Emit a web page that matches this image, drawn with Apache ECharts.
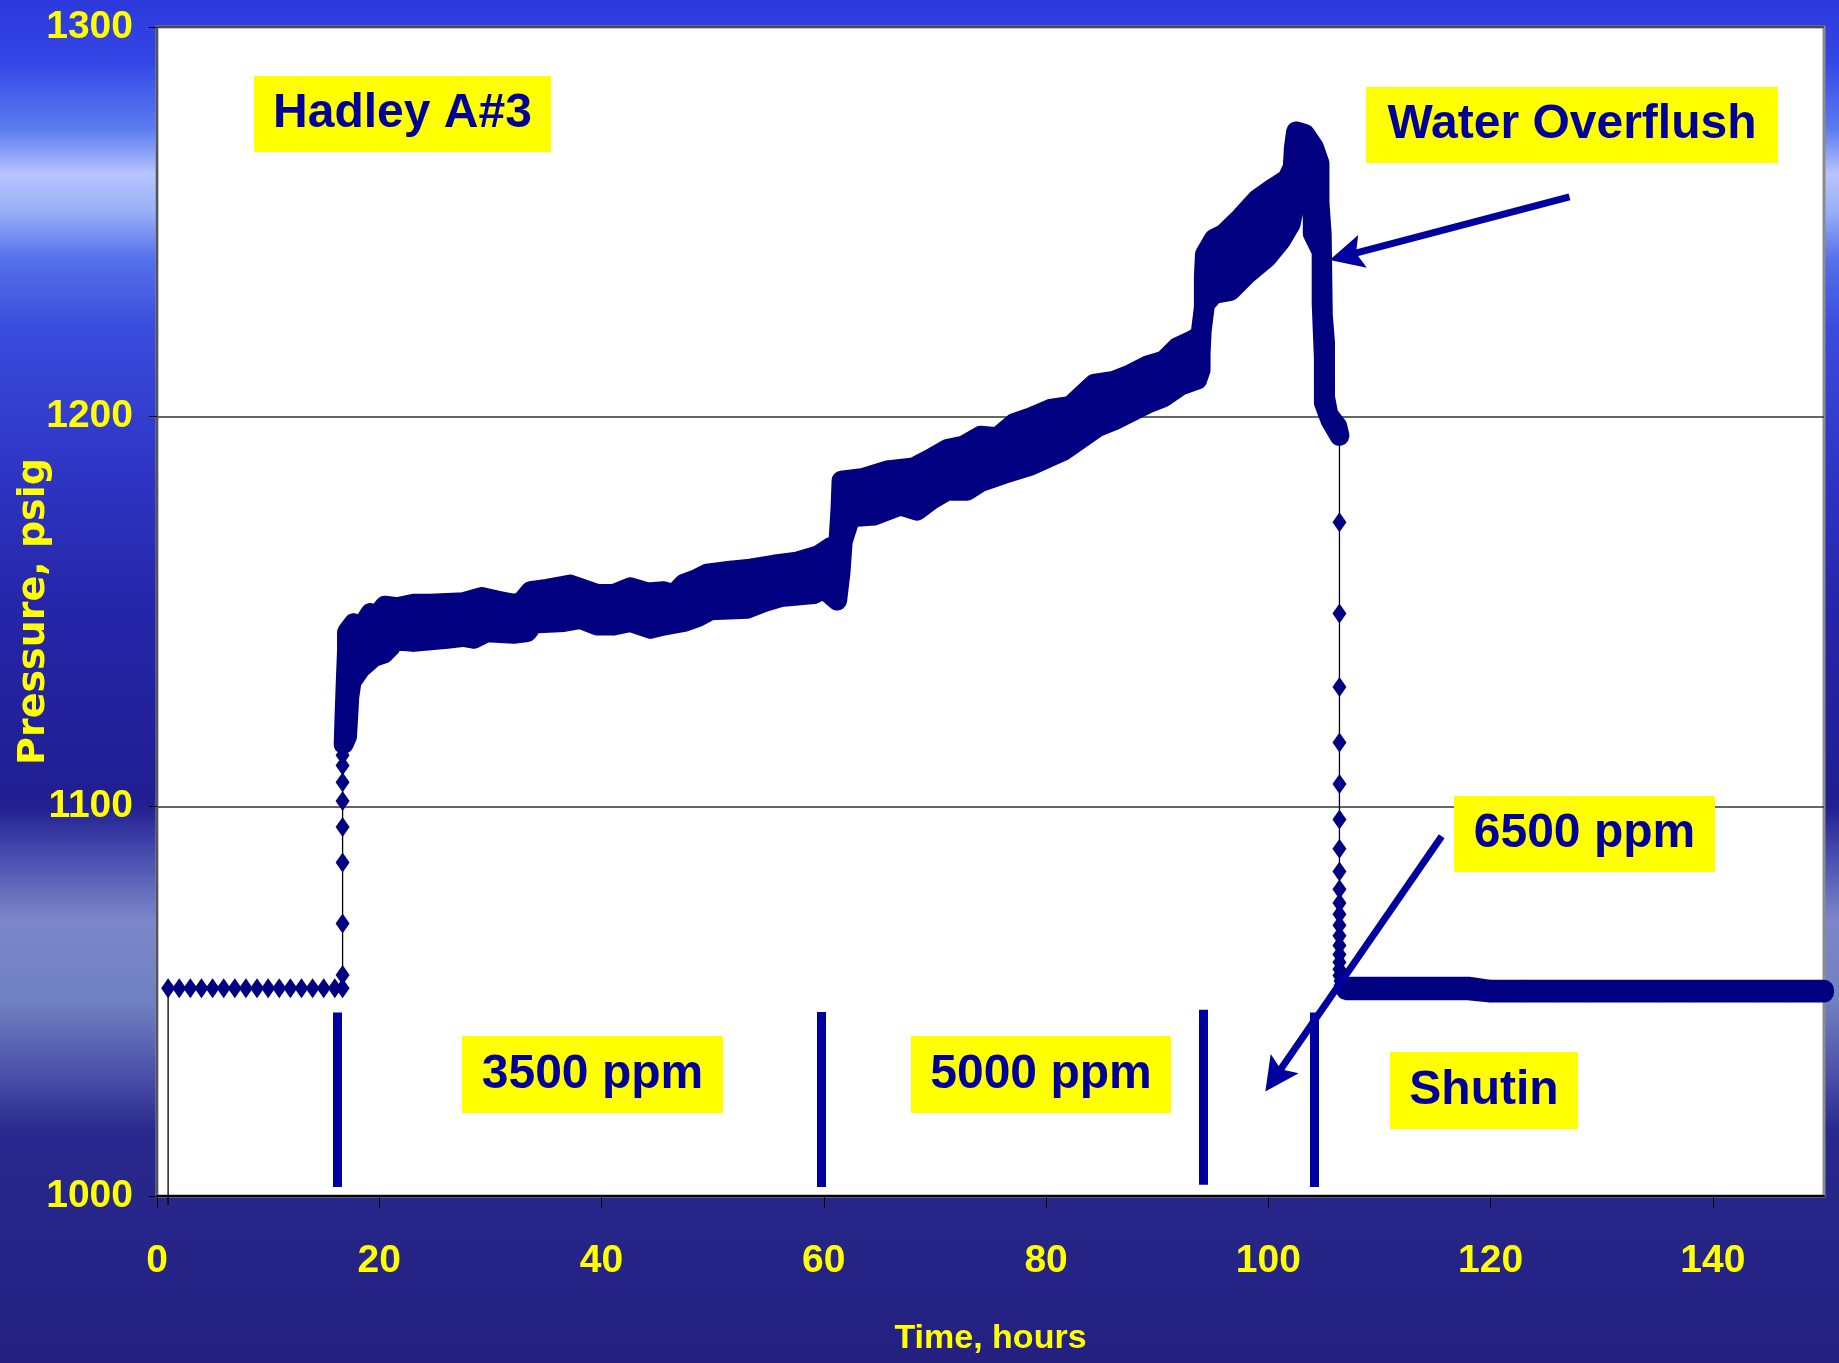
<!DOCTYPE html>
<html>
<head>
<meta charset="utf-8">
<title>Hadley A#3 pressure</title>
<script src="https://cdn.jsdelivr.net/npm/echarts@6.0.0/dist/echarts.min.js"></script>
<style>
  html, body { margin: 0; padding: 0; background: #232080; }
  #chart { width: 1839px; height: 1363px; }
</style>
</head>
<body>
<div id="chart"></div>
<script>
// ---- data (hours, psig) ----

// before injection and up the first rise
const preHours = [1, 1, 2, 3, 4, 5, 6, 7, 8, 9, 10, 11, 12, 13, 14, 15, 16,
  16.7, 16.7, 16.7, 16.7, 16.7, 16.7, 16.7, 16.7, 16.7, 16.7];
const prePsig = [997.7, 1053.3, 1053.3, 1053.3, 1053.3, 1053.3, 1053.3, 1053.3, 1053.3,
  1053.3, 1053.3, 1053.3, 1053.3, 1053.3, 1053.3, 1053.3, 1053.3,
  1053.3, 1056.7, 1069.9, 1085.6, 1094.7, 1101.4, 1106.2, 1110.5, 1113.1, 1115.6];

// injection period: the readings swing, so keep the top and bottom of the cloud
const injUpHours = [16.8, 16.9, 17.0, 17.1, 17.1, 17.7, 18.3, 19.2, 19.6, 20.5,
  21.6, 23.1, 24.6, 26.1, 27.6, 29.2, 30.6, 32.1, 32.8, 33.6,
  35.1, 37.2, 39.6, 41.1, 42.6, 44.1, 45.6, 46.5, 47.4, 48.6,
  49.5, 51.6, 53.4, 55.5, 57.6, 59.5, 60.6, 61.3, 61.5, 61.6,
  63.6, 65.7, 68.1, 69.6, 71.1, 72.6, 74.1, 75.6, 77.1, 78.6,
  80.4, 82.2, 84.3, 86.1, 87.6, 89.1, 90.6, 91.8, 93.3, 93.9,
  94.2, 94.2, 94.3, 95.1, 96.0, 97.5, 99.0, 100.5, 101.7, 102.2,
  102.3, 102.5, 103.3, 104.1, 104.6, 104.6, 104.8, 104.9, 105.1, 105.1,
  105.4, 106.2, 106.4];
const injUpPsig = [1116, 1125, 1133, 1140, 1144.7, 1147.0, 1145.6, 1149.6, 1148.2, 1151.5,
  1151.1, 1152.0, 1152.0, 1152.2, 1152.4, 1153.7, 1152.8, 1152.0, 1152.4, 1155.2,
  1155.8, 1156.9, 1154.5, 1154.5, 1156.2, 1154.9, 1155.2, 1154.4, 1157.1, 1158.4,
  1159.7, 1160.5, 1161.0, 1162.0, 1162.8, 1164.4, 1166.5, 1167.0, 1176.0, 1183.6,
  1184.3, 1186.2, 1187.0, 1189.2, 1191.7, 1192.6, 1195.1, 1194.7, 1198.3, 1199.8,
  1202.0, 1202.8, 1208.4, 1209.2, 1210.9, 1213.1, 1214.4, 1217.8, 1219.8, 1221.0,
  1228.0, 1236.0, 1241.7, 1245.6, 1246.9, 1251.1, 1255.8, 1258.8, 1261.0, 1264.0,
  1269.0, 1273.2, 1272.5, 1269.1, 1265.0, 1255.0, 1246.9, 1226.0, 1219.0, 1205.0,
  1200.5, 1197.5, 1195.1];
const injLoHours = [16.8, 17.1, 17.2, 17.3, 17.5, 18.3, 19.5, 20.4, 21.0, 21.3,
  23.1, 24.6, 26.1, 27.6, 28.5, 29.7, 32.1, 33.3, 33.9, 36.6,
  38.1, 39.6, 41.1, 42.6, 44.4, 45.6, 47.4, 48.6, 49.8, 53.1,
  54.6, 56.1, 57.6, 59.1, 60.0, 61.2, 61.5, 61.7, 62.4, 64.5,
  66.9, 68.4, 69.6, 71.1, 72.9, 74.1, 76.2, 78.6, 81.6, 84.6,
  86.1, 89.1, 90.6, 92.1, 93.6, 93.9, 93.9, 94.0, 94.3, 95.1,
  96.6, 98.1, 99.9, 101.1, 102.0, 102.5, 103.3, 104.0, 104.0, 104.8,
  104.8, 105.0, 105.0, 105.6, 106.4];
const injLoPsig = [1116, 1118, 1123, 1128, 1132, 1135.3, 1138.3, 1139.2, 1140.9, 1142.6,
  1142.2, 1142.6, 1143.0, 1143.5, 1143.0, 1144.7, 1144.3, 1144.7, 1146.9, 1147.3,
  1148.1, 1146.4, 1146.4, 1147.3, 1145.6, 1146.4, 1147.3, 1148.5, 1150.3, 1150.7,
  1152.4, 1153.7, 1154.1, 1154.5, 1155.8, 1152.8, 1160.0, 1168.0, 1174.2, 1174.6,
  1177.2, 1175.9, 1178.5, 1181.0, 1181.0, 1183.2, 1185.3, 1187.4, 1191.3, 1197.3,
  1199.0, 1203.3, 1205.0, 1208.0, 1209.5, 1212.0, 1216.0, 1222.0, 1228.9, 1231.5,
  1232.3, 1236.6, 1240.9, 1245.1, 1249.4, 1256.2, 1257.0, 1256.0, 1247.0, 1242.4,
  1229.0, 1215.0, 1203.6, 1199.0, 1195.1];

// fall-off after the water overflush
const dropHours = [106.4, 106.4, 106.4, 106.4, 106.4, 106.4, 106.4, 106.4, 106.4, 106.4,
  106.4, 106.4, 106.4, 106.4, 106.4, 106.4, 106.4, 106.4, 106.4, 106.5, 106.5, 107.0];
const dropPsig = [1195.1, 1172.9, 1149.5, 1130.6, 1116.4, 1105.7, 1096.6, 1089.1, 1083.3, 1078.7,
  1075.2, 1072.3, 1069.5, 1066.8, 1064.3, 1062.0, 1060.0, 1058.2, 1056.6, 1055.2, 1054.0, 1053.3];

// shut-in
const tailHours = [107, 110, 113, 116, 118, 120, 123, 126, 129, 132, 135, 138, 141, 144, 147, 150];
const tailUpPsig = [1053.7, 1053.7, 1053.7, 1053.7, 1053.7, 1052.9, 1052.9, 1052.9,
  1052.9, 1052.9, 1052.9, 1052.9, 1052.9, 1052.9, 1052.9, 1052.9];
const tailLoPsig = [1052.8, 1052.8, 1052.8, 1052.8, 1052.8, 1052.2, 1052.2, 1052.2,
  1052.2, 1052.2, 1052.2, 1052.2, 1052.2, 1052.2, 1052.2, 1052.2];

// stage separators (hours) and their ends (psig)
const stageHours = [16.2, 59.8, 94.1, 104.15];
const stageLow = [1002.3, 1002.3, 1002.9, 1002.3];
const stageHigh = [1047.1, 1047.2, 1047.8, 1047.1];

const hourTicks = [0, 20, 40, 60, 80, 100, 120, 140];

// ---- chart ----
const NAVY = '#000080';
const MARK = '#0000a0';
const YELLOW = '#ffff00';
const TICKFONT = "'Liberation Sans', Arial, sans-serif";
const ARROW = 'path://M10,0 L20,20 L10,16 L0,20 Z';

function zip(a, b) { return a.map((x, i) => [x, b[i]]); }

const bands = [
  { upper: zip(injUpHours, injUpPsig), lower: zip(injLoHours, injLoPsig) },
  { upper: zip(tailHours, tailUpPsig), lower: zip(tailHours, tailLoPsig) }
];
const edgePoints = bands.reduce((acc, b) => acc.concat(b.upper, b.lower), []);

const stageLines = stageHours.map((h, i) => [
  { coord: [h, stageLow[i]], symbol: 'none', lineStyle: { color: MARK, width: 9, type: 'solid' } },
  { coord: [h, stageHigh[i]], symbol: 'none' }
]);
const arrows = [
  [{ coord: [127.1, 1256.4], symbol: 'none', lineStyle: { color: MARK, width: 7, type: 'solid' } },
   { coord: [107.0, 1241.3], symbol: ARROW }],
  [{ coord: [115.6, 1092.3], symbol: 'none', lineStyle: { color: MARK, width: 7, type: 'solid' } },
   { coord: [100.6, 1030.4], symbol: ARROW }]
];

function box(x, y, w, h, text) {
  return {
    type: 'group', z: 50,
    children: [
      { type: 'rect', z: 50, shape: { x: x, y: y, width: w, height: h }, style: { fill: YELLOW } },
      { type: 'text', z: 51, x: x + w / 2, y: y + h / 2,
        style: { text: text, fill: '#000099', font: "bold 48px 'Liberation Sans', Arial, sans-serif",
                 textAlign: 'center', textVerticalAlign: 'middle' } }
    ]
  };
}

const bg = {
  type: 'linear', x: 0, y: 0, x2: 0, y2: 1,
  colorStops: [
    { offset: 0, color: '#2c38da' },
    { offset: 0.045, color: '#3446e6' },
    { offset: 0.095, color: '#5c7cf0' },
    { offset: 0.128, color: '#b8c4fc' },
    { offset: 0.155, color: '#98b0f8' },
    { offset: 0.19, color: '#5670ea' },
    { offset: 0.24, color: '#3a4cdc' },
    { offset: 0.33, color: '#3038c8' },
    { offset: 0.44, color: '#2626aa' },
    { offset: 0.59, color: '#201e90' },
    { offset: 0.63, color: '#4a50b0' },
    { offset: 0.675, color: '#7c86c8' },
    { offset: 0.735, color: '#7080c0' },
    { offset: 0.79, color: '#4a4fa8' },
    { offset: 0.83, color: '#28288e' },
    { offset: 1, color: '#232080' }
  ]
};

const chart = echarts.init(document.getElementById('chart'));
chart.setOption({
  animation: false,
  backgroundColor: bg,
  grid: {
    left: 157, right: 15, top: 27, bottom: 167,
    outerBoundsMode: 'none', containLabel: false,
    show: true, backgroundColor: '#ffffff', borderColor: '#8c8c8c', borderWidth: 3
  },
  xAxis: {
    type: 'value', min: 0, max: 150,
    name: 'Time, hours', nameLocation: 'middle', nameGap: 126, nameMoveOverlap: false,
    nameTextStyle: { color: YELLOW, fontFamily: TICKFONT, fontWeight: 'bold', fontSize: 34 },
    axisLine: { show: true, lineStyle: { color: '#000', width: 2 } },
    axisTick: { show: true, length: 12, lineStyle: { color: '#000' }, customValues: hourTicks },
    axisLabel: { color: YELLOW, fontFamily: TICKFONT, fontWeight: 'bold', fontSize: 39, margin: 46,
                 customValues: hourTicks },
    splitLine: { show: false }
  },
  yAxis: {
    type: 'value', min: 1000, max: 1300, interval: 100,
    name: 'Pressure, psig', nameLocation: 'middle', nameRotate: 90, nameGap: 104, nameMoveOverlap: false,
    nameTextStyle: { color: YELLOW, fontFamily: "'DejaVu Sans', sans-serif", fontWeight: 'bold', fontSize: 38 },
    axisLine: { show: true, lineStyle: { color: '#555', width: 2 } },
    axisTick: { show: true, length: 8, lineStyle: { color: '#000' } },
    axisLabel: { color: YELLOW, fontFamily: TICKFONT, fontWeight: 'bold', fontSize: 39, margin: 24,
                 formatter: function (v) { return String(v); } },
    splitLine: { show: true, lineStyle: { color: '#333', width: 1.5 } }
  },
  series: [
    {
      name: 'band', type: 'custom', z: 2, silent: true,
      data: bands.map((b, i) => [i]),
      renderItem: function (params, api) {
        const b = bands[params.dataIndex];
        const pts = b.upper.map(p => api.coord(p))
          .concat(b.lower.slice().reverse().map(p => api.coord(p)));
        return {
          type: 'polygon', shape: { points: pts },
          style: { fill: NAVY, stroke: NAVY, lineWidth: 20, lineJoin: 'round' }
        };
      }
    },
    {
      name: 'readings', type: 'scatter', z: 3, silent: true,
      symbol: 'diamond', symbolSize: [14, 20],
      itemStyle: { color: NAVY },
      data: edgePoints
    },
    {
      name: 'pre', type: 'line', z: 3, silent: true, clip: false,
      symbol: function (v) { return v[1] < 1000 ? 'none' : 'diamond'; },
      symbolSize: [14, 20],
      itemStyle: { color: NAVY },
      lineStyle: { color: '#000', width: 1.3 },
      data: zip(preHours, prePsig)
    },
    {
      name: 'drop', type: 'line', z: 3, silent: true, clip: false,
      symbol: 'diamond', symbolSize: [14, 20],
      itemStyle: { color: NAVY },
      lineStyle: { color: '#000', width: 1.3 },
      data: zip(dropHours, dropPsig),
      markLine: {
        silent: true, animation: false,
        symbol: ['none', 'none'], symbolSize: 34,
        label: { show: false },
        emphasis: { disabled: true },
        data: stageLines.concat(arrows)
      }
    }
  ],
  graphic: [
    box(254, 76, 297, 76, 'Hadley A#3'),
    box(1366, 87, 412, 76, 'Water Overflush'),
    box(1454, 796, 261, 76, '6500 ppm'),
    box(462, 1036, 261, 77, '3500 ppm'),
    box(911, 1036, 260, 77, '5000 ppm'),
    box(1390, 1052, 188, 77, 'Shutin')
  ]
});
</script>
</body>
</html>
